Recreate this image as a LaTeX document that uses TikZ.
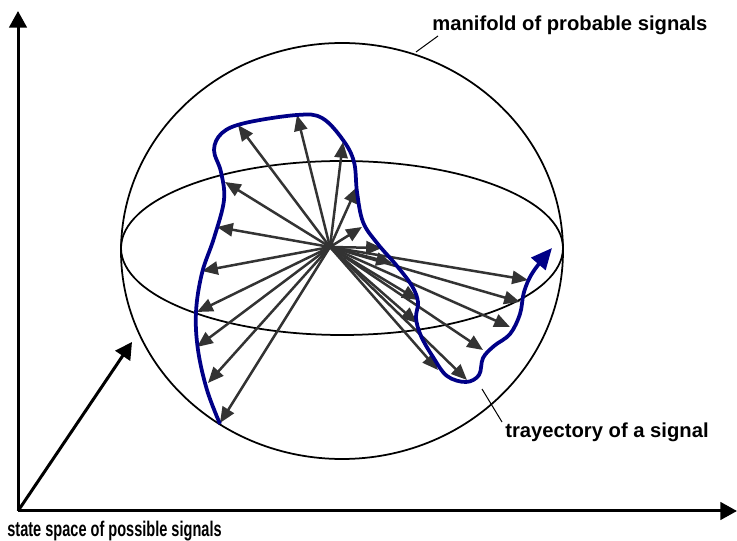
\documentclass[tikz,border=0pt]{standalone}
\usepackage{fontspec}
\setmainfont{Liberation Sans}
\usetikzlibrary{arrows.meta}

\definecolor{trajblue}{RGB}{0,0,135}
\definecolor{vecgray}{RGB}{51,51,51}

\begin{document}
\begin{tikzpicture}[x=0.2mm, y=-0.2mm,
        lbl/.style={font=\bfseries\fontsize{11.5}{14}\selectfont, inner sep=0pt, anchor=base west},
        axis/.style={line width=0.6mm, -{Triangle[length=9.5pt,width=10pt]}},
        vec/.style={vecgray, line width=0.5mm, -{Triangle[length=9pt,width=7.5pt]}},
        traj/.style={trajblue, line width=0.75mm, -{Triangle[length=12pt,width=10.5pt]}},
        leader/.style={line width=0.2mm}]

        \useasboundingbox (0,0) rectangle (737,541);

        % Axes
        \coordinate (o) at (18,511);
        \coordinate (xend) at (737,511);
        \coordinate (yend) at (18,11);
        \coordinate (zend) at (132,342);
        \draw[axis] (o) -- (xend);
        \draw[axis] (o) -- (yend);
        \draw[axis] (o) -- (zend);

        % Sphere
        \draw[line width=0.35mm] (342,251) ellipse [x radius=221, y radius=208];
        \draw[line width=0.35mm] (342,248) ellipse [x radius=221, y radius=87];

        % Vectors
        \coordinate (c) at (330,247);
        \foreach \p in {(238,125), (297,115), (343,142), (357,187), (362,227),
                        (225,182), (217,227), (202,271), (197,312), (197,347),
                        (208,383), (220,423), (382,248), (392,263), (418,300),
                        (417,323), (438,370), (467,380), (483,350), (510,327),
                        (520,302), (528,280)} {
            \draw[vec] (c) -- \p;
        }

        % Trajectory
        \draw[traj] plot[smooth, tension=0.6] coordinates {
            (220,424) (207,390) (198,350) (196,312) (202,273) (214,238)
            (224,200) (221,172) (214,150) (222,133) (245,123) (297,115)
            (322,118) (343,140) (354,162) (357,192) (363,222) (377,243)
            (397,266) (412,286) (418,302) (416,318) (421,336) (433,357)
            (447,376) (466,382) (479,375) (483,358) (494,346) (510,334)
            (520,314) (524,292) (533,272) (552,248)};

        % Labels
        \node[lbl] (mfold) at (432,31) {manifold of probable signals};
        \node[lbl] (trlbl) at (505,438) {trayectory of a signal};
        \node[lbl] (space) at (7,537) {\scalebox{0.72}[1.05]{state space of possible signals}};

        \coordinate (mtip) at (416,52);
        \coordinate (mfoot) at (438,36);
        \draw[leader] (mtip) -- (mfoot);
        \coordinate (ttip) at (482,389);
        \coordinate (tfoot) at (502,422);
        \draw[leader] (ttip) -- (tfoot);

    \end{tikzpicture}
\end{document}
